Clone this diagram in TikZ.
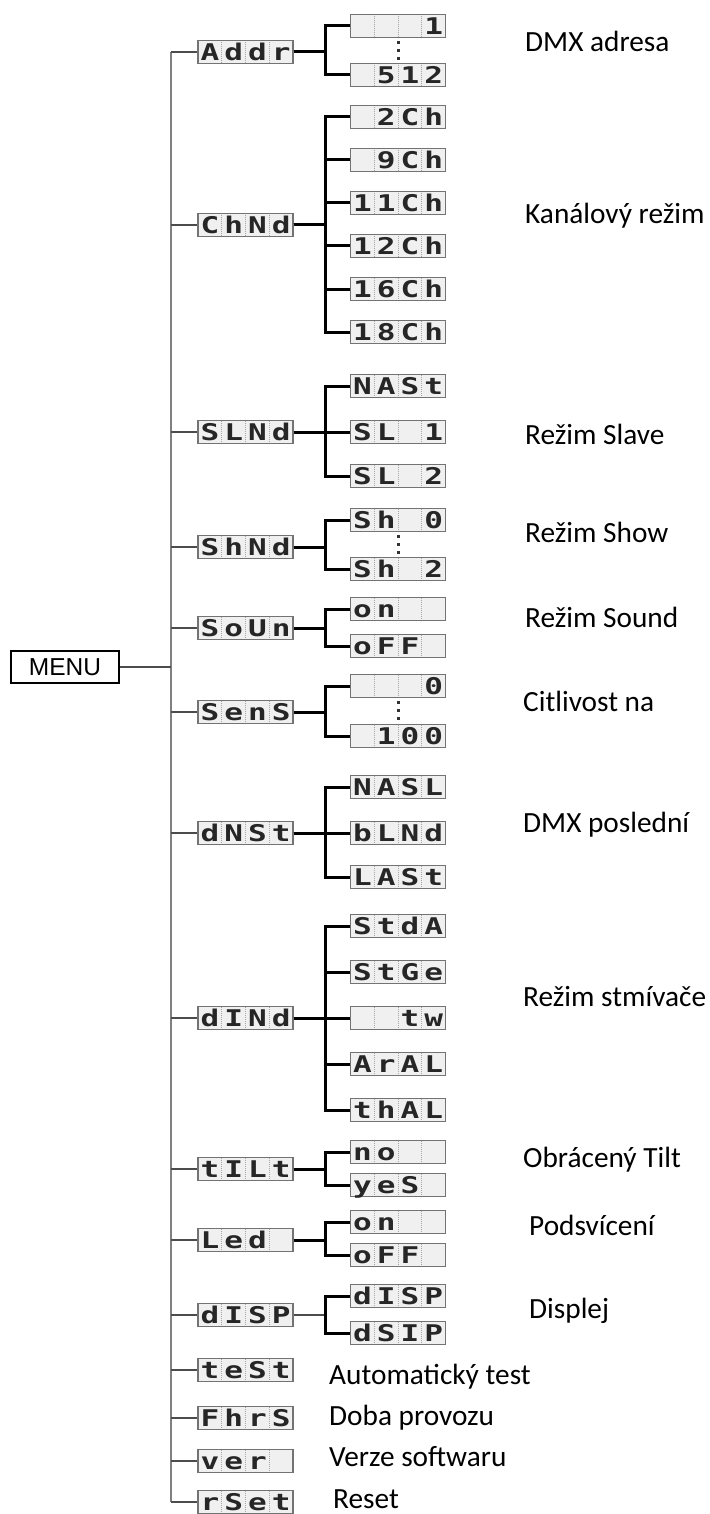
\documentclass[tikz,border=0pt]{standalone}
\usepackage{fontspec}
\usepackage{graphicx}
\setmainfont{Carlito}
\newfontfamily\menufont{Liberation Sans}
\newfontfamily\segfont{DejaVu Sans Mono}

\newlength{\cellw}\setlength{\cellw}{23.75pt}
\newcommand{\cell}[1]{\makebox[\cellw]{\scalebox{1.35}[1]{#1}}}
\newcommand{\seg}[4]{\cell{#1}\cell{#2}\cell{#3}\cell{#4}}

\tikzset{
  lcd/.style={draw=black!55, line width=1.3pt, fill=black!6, text=black!85,
    minimum width=95pt, minimum height=23pt, inner sep=0pt,
    text height=16.5pt, text depth=0pt,
    font=\segfont\bfseries\fontsize{23}{23}\selectfont,
    path picture={\foreach \i in {1,2,3}
      \draw[black!35, densely dotted, line width=1pt]
        ([xshift=\i*\cellw]path picture bounding box.south west) --
        ([xshift=\i*\cellw]path picture bounding box.north west);}},
  trunk/.style={draw=black!50, line width=2pt},
  stub/.style={draw=black!70, line width=1.4pt},
  branch/.style={draw=black, line width=3pt},
  dots/.style={draw=black!80, line width=3pt, dash pattern=on 3pt off 5pt,
    shorten <=3pt, shorten >=2pt},
  lbl/.style={anchor=base west, inner sep=0pt, font=\fontsize{29.3}{32}\selectfont},
}

\begin{document}
\begin{tikzpicture}[x=1pt,y=-1pt]
\useasboundingbox (0,0) rectangle (709,1514);

\node[draw, line width=1.5pt, minimum width=108pt, minimum height=32pt, inner sep=0pt,
  font=\menufont\fontsize{24.5}{24.5}\selectfont] (menu) at (65,667) {MENU};
\coordinate (trunk) at (171,0);

% first level
\node[lcd] (addr) at (245.5,52)   {\seg{A}{d}{d}{r}};
\node[lcd] (chnd) at (245.5,225)  {\seg{C}{h}{N}{d}};
\node[lcd] (slnd) at (245.5,432)  {\seg{S}{L}{N}{d}};
\node[lcd] (shnd) at (245.5,547)  {\seg{S}{h}{N}{d}};
\node[lcd] (soun) at (245.5,628)  {\seg{S}{o}{U}{n}};
\node[lcd] (sens) at (245.5,712)  {\seg{S}{e}{n}{S}};
\node[lcd] (dnst) at (245.5,833)  {\seg{d}{N}{S}{t}};
\node[lcd] (dind) at (245.5,1018) {\seg{d}{I}{N}{d}};
\node[lcd] (tilt) at (245.5,1169) {\seg{t}{I}{L}{t}};
\node[lcd] (led)  at (245.5,1240) {\seg{L}{e}{d}{}};
\node[lcd] (disp) at (245.5,1315) {\seg{d}{I}{S}{P}};
\node[lcd] (test) at (245.5,1370) {\seg{t}{e}{S}{t}};
\node[lcd] (fhrs) at (245.5,1418) {\seg{F}{h}{r}{S}};
\node[lcd] (ver)  at (245.5,1461) {\seg{v}{e}{r}{}};
\node[lcd] (rset) at (245.5,1502) {\seg{r}{S}{e}{t}};

% second level
\node[lcd] (a1)   at (398,26)   {\seg{}{}{}{1}};
\node[lcd] (a512) at (398,75)   {\seg{}{5}{1}{2}};
\node[lcd] (c2)   at (398,117)  {\seg{}{2}{C}{h}};
\node[lcd] (c9)   at (398,160)  {\seg{}{9}{C}{h}};
\node[lcd] (c11)  at (398,203)  {\seg{1}{1}{C}{h}};
\node[lcd] (c12)  at (398,246)  {\seg{1}{2}{C}{h}};
\node[lcd] (c16)  at (398,289)  {\seg{1}{6}{C}{h}};
\node[lcd] (c18)  at (398,332)  {\seg{1}{8}{C}{h}};
\node[lcd] (mast) at (398,386)  {\seg{N}{A}{S}{t}};
\node[lcd] (sl1)  at (398,432)  {\seg{S}{L}{}{1}};
\node[lcd] (sl2)  at (398,476)  {\seg{S}{L}{}{2}};
\node[lcd] (sh0)  at (398,520)  {\seg{S}{h}{}{0}};
\node[lcd] (sh2)  at (398,569)  {\seg{S}{h}{}{2}};
\node[lcd] (son)  at (398,609)  {\seg{o}{n}{}{}};
\node[lcd] (soff) at (398,646)  {\seg{o}{F}{F}{}};
\node[lcd] (s0)   at (398,686)  {\seg{}{}{}{0}};
\node[lcd] (s100) at (398,736)  {\seg{}{1}{0}{0}};
\node[lcd] (nasl) at (398,787)  {\seg{N}{A}{S}{L}};
\node[lcd] (blnd) at (398,833)  {\seg{b}{L}{N}{d}};
\node[lcd] (last) at (398,877)  {\seg{L}{A}{S}{t}};
\node[lcd] (stda) at (398,926)  {\seg{S}{t}{d}{A}};
\node[lcd] (stge) at (398,972)  {\seg{S}{t}{G}{e}};
\node[lcd] (tw)   at (398,1018) {\seg{}{}{t}{w}};
\node[lcd] (aral) at (398,1064) {\seg{A}{r}{A}{L}};
\node[lcd] (thal) at (398,1110) {\seg{t}{h}{A}{L}};
\node[lcd] (tno)  at (398,1152) {\seg{n}{o}{}{}};
\node[lcd] (tyes) at (398,1185) {\seg{y}{e}{S}{}};
\node[lcd] (lon)  at (398,1222) {\seg{o}{n}{}{}};
\node[lcd] (loff) at (398,1255) {\seg{o}{F}{F}{}};
\node[lcd] (d1)   at (398,1296) {\seg{d}{I}{S}{P}};
\node[lcd] (d2)   at (398,1333) {\seg{d}{S}{I}{P}};

% trunk and stubs
\draw[trunk] (addr.west -| trunk) -- (rset.west -| trunk);
\draw[stub] (menu.east) -- (menu.east -| trunk);
\foreach \n in {addr,chnd,slnd,shnd,soun,sens,dnst,dind,tilt,led,disp,test,fhrs,ver,rset}
  \draw[stub] (\n.west) -- (\n.west -| trunk);

% branches
\foreach \c in {a1,a512} \draw[branch] (addr.east) -- ++(32,0) |- (\c.west);
\foreach \c in {c2,c9,c11,c12,c16,c18} \draw[branch] (chnd.east) -- ++(32,0) |- (\c.west);
\foreach \c in {mast,sl1,sl2} \draw[branch] (slnd.east) -- ++(32,0) |- (\c.west);
\foreach \c in {sh0,sh2} \draw[branch] (shnd.east) -- ++(32,0) |- (\c.west);
\foreach \c in {son,soff} \draw[branch] (soun.east) -- ++(32,0) |- (\c.west);
\foreach \c in {s0,s100} \draw[branch] (sens.east) -- ++(32,0) |- (\c.west);
\foreach \c in {nasl,blnd,last} \draw[branch] (dnst.east) -- ++(32,0) |- (\c.west);
\foreach \c in {stda,stge,tw,aral,thal} \draw[branch] (dind.east) -- ++(32,0) |- (\c.west);
\foreach \c in {tno,tyes} \draw[branch] (tilt.east) -- ++(32,0) |- (\c.west);
\foreach \c in {lon,loff} \draw[branch] (led.east) -- ++(32,0) |- (\c.west);
\draw[stub] (disp.east) -- ++(32,0) coordinate (dj);
\foreach \c in {d1,d2} \draw[branch] (dj) |- (\c.west);

\draw[dots] (a1.south) -- (a512.north);
\draw[dots] (sh0.south) -- (sh2.north);
\draw[dots] (s0.south) -- (s100.north);

% labels
\node[lbl] (ladr)  at (525,52)   {DMX adresa};
\node[lbl] (lkan)  at (525,224)  {Kanálový režim};
\node[lbl] (lslv)  at (525,444)  {Režim Slave};
\node[lbl] (lshw)  at (525,542)  {Režim Show};
\node[lbl] (lsnd)  at (525,627)  {Režim Sound};
\node[lbl] (lcit)  at (523,711)  {Citlivost na};
\node[lbl] (lpos)  at (523,832)  {DMX poslední};
\node[lbl] (lstm)  at (523,1006) {Režim stmívače};
\node[lbl] (ltil)  at (523,1167) {Obrácený Tilt};
\node[lbl] (lpod)  at (529,1235) {Podsvícení};
\node[lbl] (ldis)  at (529,1318) {Displej};
\node[lbl] (laut)  at (329,1384) {Automatický test};
\node[lbl] (ldob)  at (329,1425) {Doba provozu};
\node[lbl] (lver)  at (329,1466) {Verze softwaru};
\node[lbl] (lres)  at (333,1508) {Reset};
\end{tikzpicture}
\end{document}
